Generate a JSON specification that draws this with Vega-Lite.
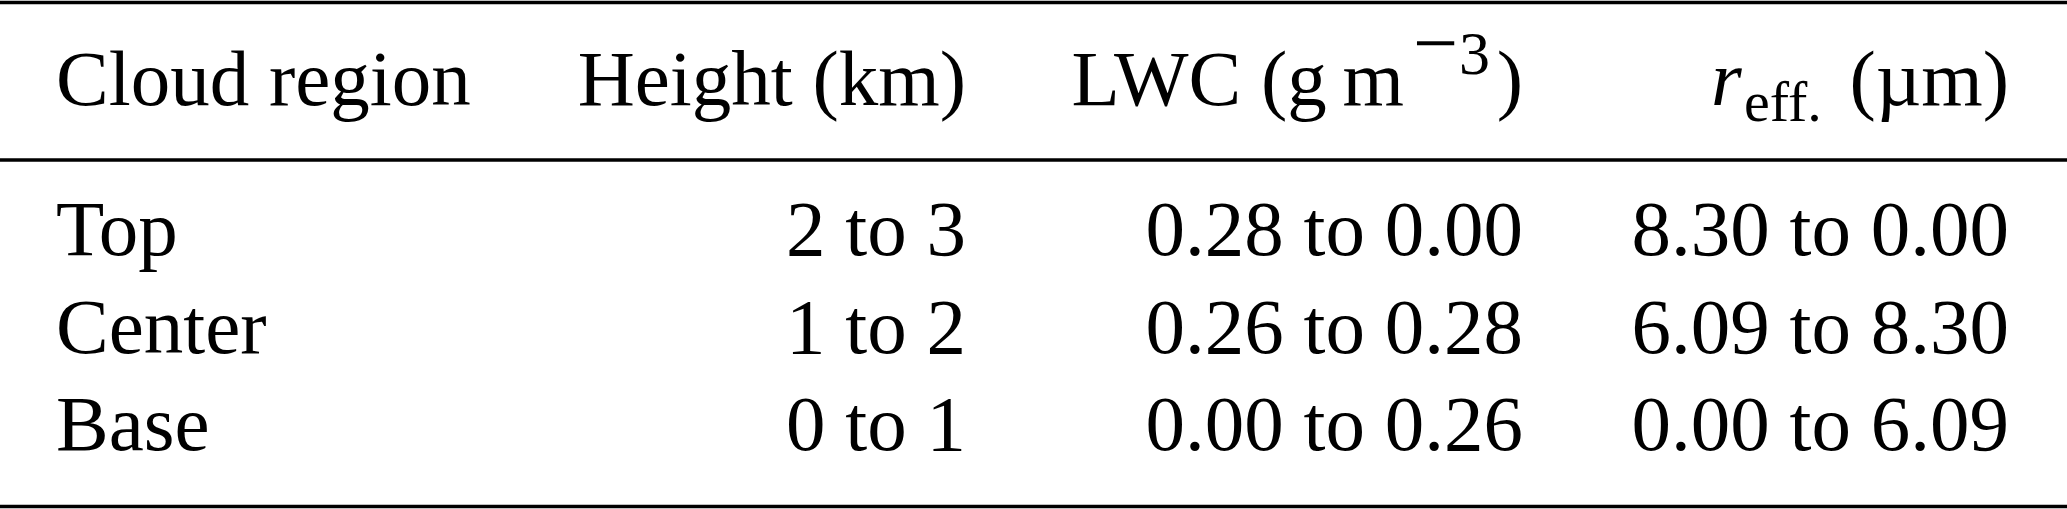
{
  "$schema": "https://vega.github.io/schema/vega-lite/v6.json",
  "width": 2067,
  "height": 509,
  "padding": 0,
  "autosize": {"type": "none"},
  "background": "white",
  "config": {"view": {"stroke": null}},
  "datasets": {
    "rules": [
      {"rule": "top", "row": 0, "col": 0, "col2": 5},
      {"rule": "mid", "row": 2, "col": 0, "col2": 5},
      {"rule": "bottom", "row": 6, "col": 0, "col2": 5}
    ],
    "cells": [
      {"row": 1, "col": 1, "part": "main", "text": "Cloud region"},
      {"row": 1, "col": 2, "part": "main", "text": "Height (km)"},
      {"row": 1, "col": 3, "part": "lwc", "text": "LWC (g\u2009m"},
      {"row": 1, "col": 3, "part": "supminus", "text": "\u2212"},
      {"row": 1, "col": 3, "part": "sup", "text": "3"},
      {"row": 1, "col": 3, "part": "main", "text": ")"},
      {"row": 1, "col": 4, "part": "ital", "text": "r"},
      {"row": 1, "col": 4, "part": "sub", "text": "eff."},
      {"row": 1, "col": 4, "part": "main", "text": "(\u00b5m)"},
      {"row": 3, "col": 1, "part": "main", "text": "Top"},
      {"row": 3, "col": 2, "part": "main", "text": "2 to 3"},
      {"row": 3, "col": 3, "part": "main", "text": "0.28 to 0.00"},
      {"row": 3, "col": 4, "part": "main", "text": "8.30 to 0.00"},
      {"row": 4, "col": 1, "part": "main", "text": "Center"},
      {"row": 4, "col": 2, "part": "main", "text": "1 to 2"},
      {"row": 4, "col": 3, "part": "main", "text": "0.26 to 0.28"},
      {"row": 4, "col": 4, "part": "main", "text": "6.09 to 8.30"},
      {"row": 5, "col": 1, "part": "main", "text": "Base"},
      {"row": 5, "col": 2, "part": "main", "text": "0 to 1"},
      {"row": 5, "col": 3, "part": "main", "text": "0.00 to 0.26"},
      {"row": 5, "col": 4, "part": "main", "text": "0.00 to 6.09"}
    ]
  },
  "encoding": {
    "x": {
      "field": "col",
      "type": "quantitative",
      "scale": {"domain": [0, 1, 2, 3, 4, 5], "range": [0, 56, 966, 1523, 2009, 2067], "zero": false, "nice": false},
      "axis": null
    },
    "y": {
      "field": "row",
      "type": "quantitative",
      "scale": {"domain": [0, 1, 2, 3, 4, 5, 6], "range": [2.5, 105, 160, 255, 353, 450, 506.5], "zero": false, "nice": false},
      "axis": null
    }
  },
  "layer": [
    {
      "data": {"name": "rules"},
      "mark": {"type": "rule", "color": "black", "strokeWidth": 3.4},
      "encoding": {"x2": {"field": "col2"}}
    },
    {
      "data": {"name": "cells"},
      "transform": [{"filter": "datum.part == 'main' && datum.col == 1"}],
      "mark": {"type": "text", "font": "Liberation Serif", "fontSize": 79, "align": "left", "baseline": "alphabetic", "color": "black"},
      "encoding": {"text": {"field": "text"}}
    },
    {
      "data": {"name": "cells"},
      "transform": [{"filter": "datum.part == 'main' && datum.col > 1"}],
      "mark": {"type": "text", "font": "Liberation Serif", "fontSize": 79, "align": "right", "baseline": "alphabetic", "color": "black"},
      "encoding": {"text": {"field": "text"}}
    },
    {
      "data": {"name": "cells"},
      "transform": [{"filter": "datum.part == 'lwc'"}],
      "mark": {"type": "text", "font": "Liberation Serif", "fontSize": 79, "align": "right", "baseline": "alphabetic", "color": "black", "dx": -119},
      "encoding": {"text": {"field": "text"}}
    },
    {
      "data": {"name": "cells"},
      "transform": [{"filter": "datum.part == 'supminus'"}],
      "mark": {"type": "text", "font": "Liberation Serif", "fontSize": 80, "align": "right", "baseline": "alphabetic", "color": "black", "dx": -65, "dy": -35},
      "encoding": {"text": {"field": "text"}}
    },
    {
      "data": {"name": "cells"},
      "transform": [{"filter": "datum.part == 'sup'"}],
      "mark": {"type": "text", "font": "Liberation Serif", "fontSize": 62, "align": "right", "baseline": "alphabetic", "color": "black", "dx": -33, "dy": -31},
      "encoding": {"text": {"field": "text"}}
    },
    {
      "data": {"name": "cells"},
      "transform": [{"filter": "datum.part == 'ital'"}],
      "mark": {"type": "text", "font": "Liberation Serif", "fontSize": 79, "fontStyle": "italic", "align": "left", "baseline": "alphabetic", "color": "black", "dx": -298},
      "encoding": {"text": {"field": "text"}}
    },
    {
      "data": {"name": "cells"},
      "transform": [{"filter": "datum.part == 'sub'"}],
      "mark": {"type": "text", "font": "Liberation Serif", "fontSize": 58, "align": "left", "baseline": "alphabetic", "color": "black", "dx": -265, "dy": 16},
      "encoding": {"text": {"field": "text"}}
    }
  ]
}
